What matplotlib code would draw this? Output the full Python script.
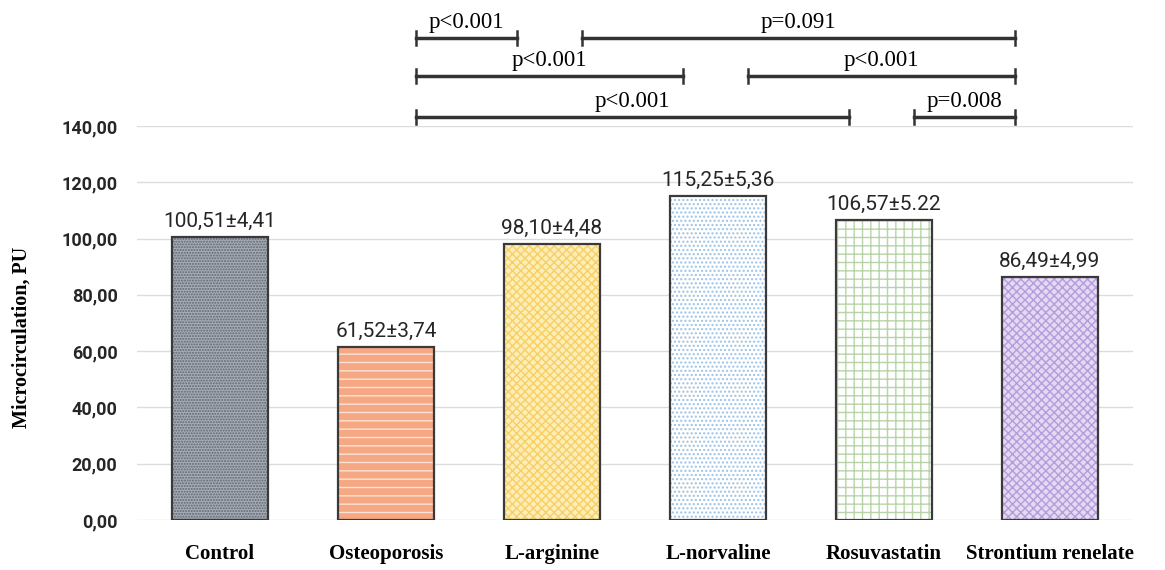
import matplotlib
matplotlib.use("Agg")
from matplotlib import pyplot as plt

# values
groups = ["Control", "Osteoporosis", "L-arginine", "L-norvaline", "Rosuvastatin", "Strontium renelate"]
means = [100.51, 61.52, 98.10, 115.25, 106.57, 86.49]
value_labels = ["100,51±4,41", "61,52±3,74", "98,10±4,48", "115,25±5,36", "106,57±5.22", "86,49±4,99"]
y_ticks = [0, 20, 40, 60, 80, 100, 120, 140]

# pairwise comparisons: (group a, group b, p label), one list per bracket row (top first)
comparison_rows = [
    [(1, 2, "p<0.001"), (2, 5, "p=0.091")],
    [(1, 3, "p<0.001"), (3, 5, "p<0.001")],
    [(1, 4, "p<0.001"), (4, 5, "p=0.008")],
]

# bar styles: face colour, hatch, hatch colour
styles = [
    ("#a7adb6", "......", "#5f6670"),
    ("#f5a883", "--", "#fbe3d5"),
    ("#fdeeb9", "xxxx", "#f7cf62"),
    ("#ffffff", "....", "#9cc2e5"),
    ("#ffffff", "++", "#b7d4a8"),
    ("#e4d8f2", "xxxx", "#b39ddb"),
]

fig = plt.figure(figsize=(11.65, 5.7), dpi=100)
ax = fig.add_axes([137 / 1165, 50 / 570, 996 / 1165, 394 / 570])

x = list(range(len(groups)))
for k in x:
    face, hatch, hcolor = styles[k]
    ax.bar(k, means[k], width=0.58, color=face, hatch=hatch, edgecolor=hcolor,
           linewidth=0, zorder=2)
    ax.bar(k, means[k], width=0.58, fill=False, edgecolor="#3a3a3a",
           linewidth=1.6, zorder=3)
    ax.text(k, means[k] + 2.2, value_labels[k], ha="center", va="bottom",
            fontsize=15, family="Roboto", color="#262626", zorder=4)

ax.set_xlim(-0.5, len(groups) - 0.5)
ax.set_ylim(0, 140)
ax.set_yticks(y_ticks)
ax.set_yticklabels([f"{v:.2f}".replace(".", ",") for v in y_ticks],
                   fontsize=13, family="Roboto", fontweight="bold", color="#262626")
ax.set_xticks(x)
ax.set_xticklabels(groups, fontsize=15, family="Liberation Serif", fontweight="bold")
ax.tick_params(axis="x", length=0, pad=17)
ax.tick_params(axis="y", length=0, pad=14)
ax.grid(axis="y", color="#dcdcdc", linewidth=1.0, zorder=0)
ax.set_axisbelow(True)
for s in ax.spines.values():
    s.set_visible(False)

ax.set_ylabel("Microcirculation, PU", fontsize=14.5, family="Liberation Serif",
              fontweight="bold")
ax.yaxis.set_label_coords(-0.106, 0.464)

# significance brackets above the plot area
row_levels = [171.3, 157.8, 143.2]
for level, row in zip(row_levels, comparison_rows):
    for a, b, label in row:
        x1, x2 = a + 0.18, b - 0.21
        ax.plot([x1, x2], [level, level], color="#333333", lw=2.5,
                clip_on=False, zorder=5)
        for xe in (x1, x2):
            ax.plot([xe, xe], [level - 2.5, level + 2.5], color="#333333",
                    lw=1.8, clip_on=False, zorder=5)
        ax.text((x1 + x2) / 2, level + 1.6, label, ha="center", va="bottom",
                fontsize=16.5, family="Liberation Serif", color="black")

plt.savefig("out.png", dpi=100)
